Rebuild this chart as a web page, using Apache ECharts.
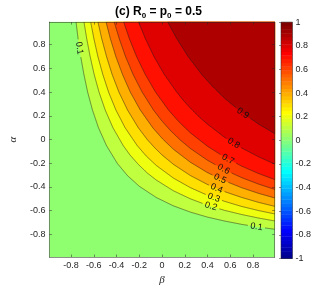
<!DOCTYPE html>
<html><head><meta charset="utf-8">
<script src="https://cdn.jsdelivr.net/npm/echarts@6/dist/echarts.min.js"></script>
<style>html,body{margin:0;padding:0;background:#fff}#c{width:332px;height:291px}</style>
</head><body><div id="c"></div><script>
// ---- data ----
const betaRange = [-0.99, 0.99];
const alphaRange = [-0.99, 0.99];
const colorRange = [-1, 1];
const bandLevels = [0, 0.1, 0.2, 0.3, 0.4, 0.5, 0.6, 0.7, 0.8, 0.9];
const contourLevels = [0.1, 0.2, 0.3, 0.4, 0.5, 0.6, 0.7, 0.8, 0.9];
const xTickValues = [-0.8, -0.6, -0.4, -0.2, 0, 0.2, 0.4, 0.6, 0.8];
const yTickValues = [-0.8, -0.6, -0.4, -0.2, 0, 0.2, 0.4, 0.6, 0.8];
const colorbarTicks = [-1, -0.8, -0.6, -0.4, -0.2, 0, 0.2, 0.4, 0.6, 0.8, 1];
// contour lines, [beta, alpha] points
const contour_01 = [[-0.756,0.99],[-0.738,0.85],[-0.715,0.70],[-0.687,0.55],[-0.654,0.40],[-0.612,0.25],[-0.559,0.10],[-0.489,-0.05],[-0.394,-0.20],[-0.304,-0.304],[-0.20,-0.394],[-0.05,-0.489],[0.10,-0.559],[0.25,-0.612],[0.40,-0.654],[0.55,-0.687],[0.70,-0.715],[0.85,-0.738],[0.99,-0.756]];
const contour_02 = [[-0.686,0.99],[-0.662,0.85],[-0.632,0.70],[-0.597,0.55],[-0.554,0.40],[-0.50,0.25],[-0.432,0.10],[-0.342,-0.05],[-0.282,-0.13],[-0.209,-0.209],[-0.13,-0.282],[-0.05,-0.342],[0.10,-0.432],[0.25,-0.50],[0.40,-0.554],[0.55,-0.597],[0.70,-0.632],[0.85,-0.662],[0.99,-0.686]];
const contour_03 = [[-0.627,0.99],[-0.599,0.85],[-0.564,0.70],[-0.521,0.55],[-0.47,0.40],[-0.406,0.25],[-0.325,0.10],[-0.219,-0.05],[-0.139,-0.139],[-0.05,-0.219],[0.10,-0.325],[0.25,-0.406],[0.40,-0.47],[0.55,-0.521],[0.70,-0.564],[0.85,-0.599],[0.99,-0.627]];
const contour_04 = [[-0.563,0.99],[-0.530,0.85],[-0.488,0.70],[-0.439,0.55],[-0.379,0.40],[-0.304,0.25],[-0.209,0.10],[-0.13,0.0],[-0.067,-0.067],[0.0,-0.13],[0.10,-0.209],[0.25,-0.304],[0.40,-0.379],[0.55,-0.439],[0.70,-0.488],[0.85,-0.530],[0.99,-0.563]];
const contour_05 = [[-0.492,0.99],[-0.454,0.85],[-0.406,0.70],[-0.348,0.55],[-0.279,0.40],[-0.192,0.25],[-0.082,0.10],[0.005,0.005],[0.10,-0.082],[0.25,-0.192],[0.40,-0.279],[0.55,-0.348],[0.70,-0.406],[0.85,-0.454],[0.99,-0.492]];
const contour_06 = [[-0.420,0.99],[-0.376,0.85],[-0.321,0.70],[-0.255,0.55],[-0.175,0.40],[-0.076,0.25],[-0.004,0.16],[0.075,0.075],[0.16,-0.004],[0.25,-0.076],[0.40,-0.175],[0.55,-0.255],[0.70,-0.321],[0.85,-0.376],[0.99,-0.420]];
const contour_07 = [[-0.337,0.99],[-0.287,0.85],[-0.224,0.70],[-0.148,0.55],[-0.057,0.40],[0.056,0.25],[0.149,0.149],[0.25,0.056],[0.40,-0.057],[0.55,-0.148],[0.70,-0.224],[0.85,-0.287],[0.99,-0.337]];
const contour_08 = [[-0.206,0.99],[-0.146,0.85],[-0.071,0.70],[0.019,0.55],[0.129,0.40],[0.188,0.33],[0.257,0.257],[0.33,0.188],[0.40,0.129],[0.55,0.019],[0.70,-0.071],[0.85,-0.146],[0.99,-0.206]];
const contour_09 = [[0.050,0.99],[0.130,0.85],[0.229,0.70],[0.348,0.55],[0.446,0.446],[0.55,0.348],[0.70,0.229],[0.85,0.130],[0.99,0.050]];
const contours = [contour_01, contour_02, contour_03, contour_04, contour_05, contour_06, contour_07, contour_08, contour_09];
// inline contour labels: [beta, alpha, level]
const labelPoints = [[-0.727,0.77,0.1],[0.83,-0.735,0.1],[0.43,-0.563,0.2],[0.455,-0.49,0.3],[0.48,-0.412,0.4],[0.51,-0.331,0.5],[0.54,-0.25,0.6],[0.58,-0.165,0.7],[0.63,-0.031,0.8],[0.71,0.222,0.9]];

// ---- styling helpers ----
const FONT = '"Liberation Sans", Arial, Helvetica, sans-serif';
const AX = '#262626';
const GAP = 8.5;
function jetRow(k){ const u=j=>(j<1||j>47)?0:(j<=16?j/16:(j<=31?1:(48-j)/16)); return [u(k-24),u(k-8),u(k+8)]; }
function rgb(c){ return 'rgb('+c.map(v=>Math.round(v*255)).join(',')+')'; }
function bandColor(L){ let k=Math.floor((L-colorRange[0])/(colorRange[1]-colorRange[0])*64+1e-9)+1; k=Math.min(64,Math.max(1,k)); return rgb(jetRow(k)); }
function gapped(pts, centers, r){
  const out=[]; let cur=[];
  for(let i=0;i<pts.length-1;i++){
    const [x0,y0]=pts[i],[x1,y1]=pts[i+1];
    const n=Math.max(1,Math.ceil(Math.hypot(x1-x0,y1-y0)/0.7));
    for(let s=(i===0?0:1);s<=n;s++){
      const t=s/n, x=x0+(x1-x0)*t, y=y0+(y1-y0)*t;
      if(centers.some(c=>Math.hypot(x-c[0],y-c[1])<r)){ if(cur.length>1) out.push(cur); cur=[]; }
      else cur.push([x,y]);
    }
  }
  if(cur.length>1) out.push(cur);
  return out;
}
function renderBand(params, api){
  const i=api.value(0);
  const color=bandColor(bandLevels[i]);
  let pts;
  if(i===0) pts=[[betaRange[0],alphaRange[1]],[betaRange[1],alphaRange[1]],[betaRange[1],alphaRange[0]],[betaRange[0],alphaRange[0]]];
  else pts=contours[i-1].concat([[betaRange[1],alphaRange[1]]]);
  return {type:'polygon', shape:{points:pts.map(p=>api.coord(p))}, style:{fill:color, stroke:color, lineWidth:0.3}};
}
function renderLine(params, api){
  const i=api.value(0), L=contourLevels[i];
  const pts=contours[i].map(p=>api.coord(p));
  const centers=labelPoints.filter(l=>Math.abs(l[2]-L)<1e-6).map(l=>api.coord([l[0],l[1]]));
  return {type:'group', children:gapped(pts,centers,GAP).map(p=>({type:'polyline', shape:{points:p}, style:{stroke:'#1e1e1e', lineWidth:0.6, fill:null, opacity:0.85}}))};
}
function renderLabel(params, api){
  const b=api.value(0), a=api.value(1), L=api.value(2);
  const idx=contourLevels.findIndex(v=>Math.abs(v-L)<1e-6);
  const c=api.coord([b,a]);
  const pts=contours[idx].map(p=>api.coord(p));
  let best=Infinity, ang=0;
  for(let i=0;i<pts.length-1;i++){
    const [x0,y0]=pts[i],[x1,y1]=pts[i+1];
    const dx=x1-x0, dy=y1-y0, l2=dx*dx+dy*dy;
    let t=((c[0]-x0)*dx+(c[1]-y0)*dy)/l2; t=Math.max(0,Math.min(1,t));
    const d=Math.hypot(c[0]-(x0+t*dx), c[1]-(y0+t*dy));
    if(d<best){best=d; ang=Math.atan2(dy,dx);}
  }
  return {type:'text', x:c[0], y:c[1], rotation:-ang, style:{text:String(L), fill:'#111', fontSize:9, fontFamily:FONT, align:'center', verticalAlign:'middle'}};
}
function renderColorbar(params, api){
  const children=[];
  for(let k=1;k<=64;k++){
    const v0=colorRange[0]+(k-1)*(colorRange[1]-colorRange[0])/64, v1=colorRange[0]+k*(colorRange[1]-colorRange[0])/64;
    const a=api.coord([0,v1]), b=api.coord([1,v0]);
    children.push({type:'rect', shape:{x:a[0], y:a[1], width:b[0]-a[0], height:b[1]-a[1]+0.4}, style:{fill:rgb(jetRow(k))}});
  }
  const p=api.coord([0,colorRange[1]]), q=api.coord([1,colorRange[0]]);
  children.push({type:'rect', shape:{x:p[0], y:p[1], width:q[0]-p[0], height:q[1]-p[1]}, style:{fill:null, stroke:AX, lineWidth:0.5}});
  return {type:'group', children};
}
const lineStyle={color:AX, width:0.5};
const chart=echarts.init(document.getElementById('c'), null, {renderer:'canvas'});
chart.setOption({
  animation:false,
  backgroundColor:'#fff',
  title:{text:'{m|(c) R}{s|0}{m| = p}{s|0}{m| = 0.5}', left:110, top:1,
    textStyle:{rich:{m:{fontSize:12, fontWeight:'bold', fontFamily:FONT, color:'#000', lineHeight:14, verticalAlign:'top'},
                     s:{fontSize:8, fontWeight:'bold', fontFamily:FONT, color:'#000', lineHeight:9, verticalAlign:'top', padding:[6,0,0,0]}}}},
  grid:[{left:39.7, top:22.1, width:235, height:236.4}, {left:281, top:22.1, width:11.5, height:236.4}],
  xAxis:[
    {gridIndex:0, type:'value', min:betaRange[0], max:betaRange[1], position:'bottom', z:10,
     axisLine:{show:true, onZero:false, lineStyle}, axisTick:{show:true, inside:true, length:2.5, customValues:xTickValues, lineStyle},
     axisLabel:{customValues:xTickValues, fontSize:9, color:AX, margin:4, fontFamily:FONT}, splitLine:{show:false},
     name:'β', nameLocation:'middle', nameGap:18, nameTextStyle:{fontSize:11, fontStyle:'italic', fontFamily:'"Liberation Serif", "DejaVu Serif", serif', color:AX}},
    {gridIndex:0, type:'value', min:betaRange[0], max:betaRange[1], position:'top', z:10,
     axisLine:{show:true, onZero:false, lineStyle}, axisTick:{show:true, inside:true, length:2.5, customValues:xTickValues, lineStyle},
     axisLabel:{show:false}, splitLine:{show:false}},
    {gridIndex:1, type:'value', min:0, max:1, show:false}
  ],
  yAxis:[
    {gridIndex:0, type:'value', min:alphaRange[0], max:alphaRange[1], position:'left', z:10,
     axisLine:{show:true, onZero:false, lineStyle}, axisTick:{show:true, inside:true, length:2.5, customValues:yTickValues, lineStyle},
     axisLabel:{customValues:yTickValues, fontSize:9, color:AX, margin:4, fontFamily:FONT}, splitLine:{show:false},
     name:'α', nameLocation:'middle', nameGap:17, nameRotate:90, nameTextStyle:{fontSize:11, fontStyle:'italic', fontFamily:'"Liberation Serif", "DejaVu Serif", serif', color:AX}},
    {gridIndex:0, type:'value', min:alphaRange[0], max:alphaRange[1], position:'right', z:10,
     axisLine:{show:true, onZero:false, lineStyle}, axisTick:{show:true, inside:true, length:2.5, customValues:yTickValues, lineStyle},
     axisLabel:{show:false}, splitLine:{show:false}},
    {gridIndex:1, type:'value', min:colorRange[0], max:colorRange[1], position:'right', z:10,
     axisLine:{show:false}, axisTick:{show:true, inside:true, length:2, customValues:colorbarTicks, lineStyle},
     axisLabel:{customValues:colorbarTicks, fontSize:9, color:AX, margin:3, fontFamily:FONT}, splitLine:{show:false}}
  ],
  series:[
    {type:'custom', xAxisIndex:0, yAxisIndex:0, silent:true, renderItem:renderBand, data:bandLevels.map((L,i)=>[i,L]), z:1},
    {type:'custom', xAxisIndex:0, yAxisIndex:0, silent:true, renderItem:renderLine, data:contourLevels.map((L,i)=>[i,L]), z:2},
    {type:'custom', xAxisIndex:0, yAxisIndex:0, silent:true, renderItem:renderLabel, data:labelPoints, z:3},
    {type:'custom', xAxisIndex:2, yAxisIndex:2, silent:true, renderItem:renderColorbar, data:[[0,0]], z:1}
  ]
});
</script></body></html>
